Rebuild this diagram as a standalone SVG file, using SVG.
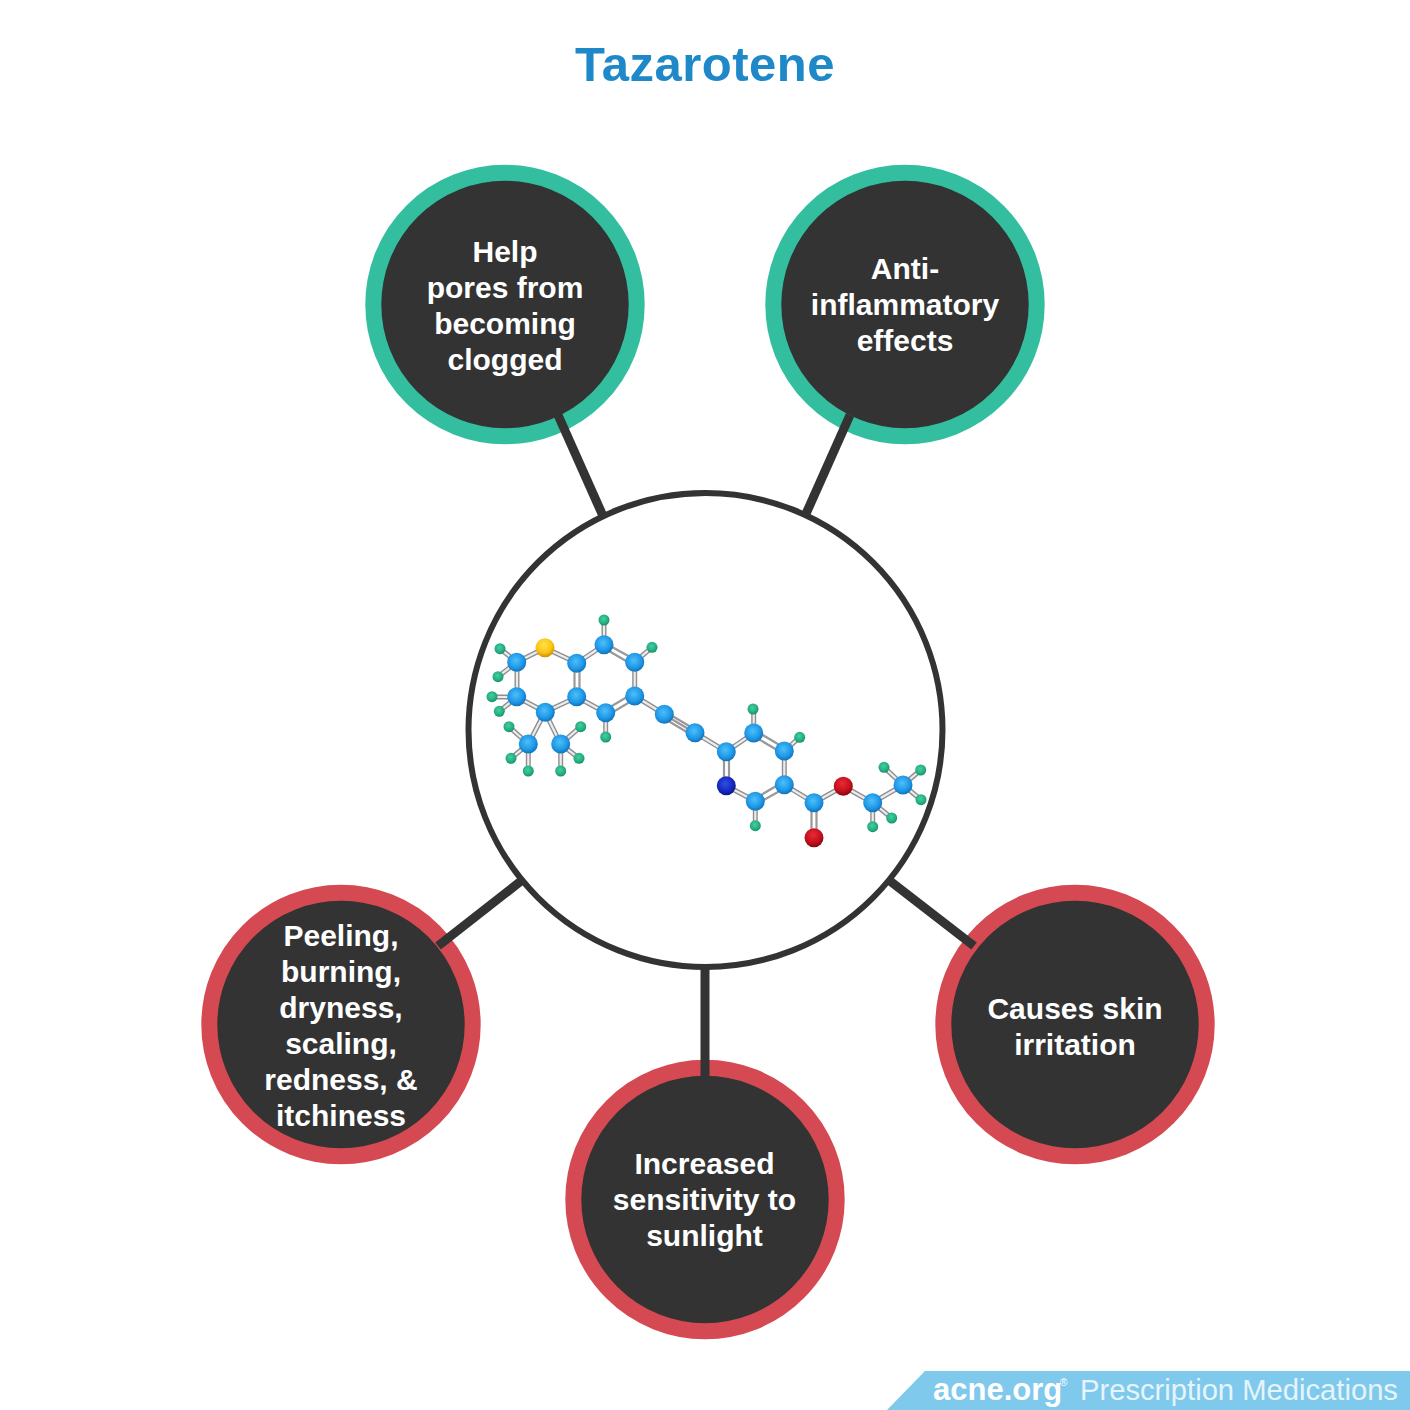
<svg xmlns="http://www.w3.org/2000/svg" width="1410" height="1410" viewBox="0 0 1410 1410">
<style>
text{font-family:"Liberation Sans",Arial,sans-serif}
.title{font-size:49px;font-weight:700;fill:#1e88c9;text-anchor:middle;letter-spacing:.5px}
.lab{font-size:30px;font-weight:700;fill:#fff;text-anchor:middle}
.good{fill:#333;stroke:#33bf9f;stroke-width:16}
.bad{fill:#333;stroke:#d54a52;stroke-width:16}
.hub{fill:#fff;stroke:#333;stroke-width:6}
.conn{stroke:#333;stroke-width:9;fill:none}
.bo{stroke:#8f8f8f;stroke-width:5;fill:none}
.bi{stroke:#ececec;stroke-width:2.200;fill:none}
.dbl{stroke:#999;stroke-width:2.200;fill:none}
.C{fill:url(#gc)}.H{fill:url(#gh)}.S{fill:url(#gs)}.N{fill:url(#gn)}.O{fill:url(#go)}
.brand{font-size:31px;font-weight:700;fill:#fff}
.sub{font-size:29.200px;fill:#e6f4fb}
</style>
<defs>
<radialGradient id="gc" cx=".45" cy=".4" r=".62"><stop offset="0" stop-color="#4cc0fa"/><stop offset=".65" stop-color="#1e97e6"/><stop offset="1" stop-color="#0f6fb8"/></radialGradient>
<radialGradient id="gh" cx=".45" cy=".4" r=".62"><stop offset="0" stop-color="#45d0a0"/><stop offset=".7" stop-color="#22ab80"/><stop offset="1" stop-color="#128a66"/></radialGradient>
<radialGradient id="gs" cx=".45" cy=".35" r=".65"><stop offset="0" stop-color="#ffe24a"/><stop offset=".65" stop-color="#fbc312"/><stop offset="1" stop-color="#d08e05"/></radialGradient>
<radialGradient id="gn" cx=".45" cy=".4" r=".62"><stop offset="0" stop-color="#2f4fe8"/><stop offset=".65" stop-color="#1428c0"/><stop offset="1" stop-color="#0a1680"/></radialGradient>
<radialGradient id="go" cx=".45" cy=".35" r=".65"><stop offset="0" stop-color="#ea2a36"/><stop offset=".65" stop-color="#c30f1c"/><stop offset="1" stop-color="#860610"/></radialGradient>
<path id="single" d="M545 648L517 662M517 662V697M517 697L545 712M545 712L577 697M545 648L577 663M577 663L604 645M634.700 662V696M605.700 712.700L577 697M634.700 696L664 714M695 732.700L726.300 751.700M726.300 785.700L755.300 801.300M784.300 784.700V751M726.300 751.700L753.700 733M784.300 784.700L814 802.700M814 802.700L843.300 786.300M843.300 786.300L872.700 802.700M872.700 802.700L903 785M545 712L528.300 744M545 712L560.700 744M604 645V620M634.700 662L652 647.300M517 662L500 648.700M517 662L498 676.700M517 697H492M517 697L499.300 711.300M605.700 712.700V737M528.300 744L509 726.700M528.300 744L511 758.300M528.300 744V771M560.700 744L580.700 726.700M560.700 744L579 758.300M560.700 744V771M753.700 733V709M784.300 751L799.700 737.300M755.300 801.300V825.700M872.700 802.700V826.700M872.700 802.700L891.700 818M903 785L884 767.300M903 785L920.700 770M903 785L921 799.700"/>
</defs>
<rect width="1410" height="1410" fill="#fff"/>
<text class="title" x="705" y="81">Tazarotene</text>
<g id="node-pores"><circle class="good" cx="505" cy="304.500" r="131.700"/>
<text class="lab"><tspan x="505" y="261.500">Help</tspan><tspan x="505" y="297.500">pores from</tspan><tspan x="505" y="333.500">becoming</tspan><tspan x="505" y="369.500">clogged</tspan></text></g>
<g id="node-antiinflammatory"><circle class="good" cx="905" cy="304.500" r="131.700"/>
<text class="lab"><tspan x="905" y="278.500">Anti-</tspan><tspan x="905" y="314.500">inflammatory</tspan><tspan x="905" y="350.500">effects</tspan></text></g>
<g id="node-peeling"><circle class="bad" cx="341" cy="1024.500" r="131.700"/>
<text class="lab"><tspan x="341" y="945.500">Peeling,</tspan><tspan x="341" y="981.500">burning,</tspan><tspan x="341" y="1017.500">dryness,</tspan><tspan x="341" y="1053.500">scaling,</tspan><tspan x="341" y="1089.500">redness, &amp;</tspan><tspan x="341" y="1125.500">itchiness</tspan></text></g>
<g id="node-sunlight"><circle class="bad" cx="705" cy="1199.500" r="131.700"/>
<text class="lab"><tspan x="704.500" y="1173.500">Increased</tspan><tspan x="704.500" y="1209.500">sensitivity to</tspan><tspan x="704.500" y="1245.500">sunlight</tspan></text></g>
<g id="node-irritation"><circle class="bad" cx="1075" cy="1024.500" r="131.700"/>
<text class="lab"><tspan x="1075" y="1018.500">Causes skin</tspan><tspan x="1075" y="1054.500">irritation</tspan></text></g>
<g id="connectors">
<line class="conn" x1="558" y1="415" x2="603" y2="516"/>
<line class="conn" x1="850" y1="415" x2="805" y2="516"/>
<line class="conn" x1="521" y1="881" x2="438" y2="946"/>
<line class="conn" x1="890" y1="881" x2="974" y2="946"/>
<line class="conn" x1="705" y1="966" x2="705" y2="1078"/>
</g>
<g id="node-molecule"><circle class="hub" cx="705.500" cy="730" r="237"/>
<use href="#single" class="bo"/><use href="#single" class="bi"/>
<path class="dbl" d="M574.500 664V696M579.500 664V696M604 642.500L635.500 660M602 647L633 665M633 693.500L605 710M636.500 698L608 715M664 711L695 729.500M664 714.500L695 733M662.500 717.500L693.500 736M724 752V785M729 752V785M755 798.500L783 782M757.500 803.500L786 787.500M755 730.500L785.500 748.500M752.500 735.500L783 753.500M811.500 803V837M816.500 803V837"/>
<circle class="H" cx="604" cy="620" r="5.500"/><circle class="H" cx="652" cy="647.300" r="5.500"/><circle class="H" cx="500" cy="648.700" r="5.500"/><circle class="H" cx="498" cy="676.700" r="5.500"/><circle class="H" cx="492" cy="696.700" r="5.500"/><circle class="H" cx="499.300" cy="711.300" r="5.500"/><circle class="H" cx="605.700" cy="737" r="5.500"/><circle class="H" cx="509" cy="726.700" r="5.500"/><circle class="H" cx="511" cy="758.300" r="5.500"/><circle class="H" cx="528.300" cy="771" r="5.500"/><circle class="H" cx="580.700" cy="726.700" r="5.500"/><circle class="H" cx="579" cy="758.300" r="5.500"/><circle class="H" cx="560.700" cy="771" r="5.500"/><circle class="H" cx="753" cy="709" r="5.500"/><circle class="H" cx="799.700" cy="737.300" r="5.500"/><circle class="H" cx="755.300" cy="825.700" r="5.500"/><circle class="H" cx="872.700" cy="826.700" r="5.500"/><circle class="H" cx="891.700" cy="818" r="5.500"/><circle class="H" cx="884" cy="767.300" r="5.500"/><circle class="H" cx="920.700" cy="770" r="5.500"/><circle class="H" cx="921" cy="799.700" r="5.500"/>
<circle class="C" cx="516.700" cy="662.300" r="9.500"/><circle class="C" cx="516.700" cy="696.700" r="9.500"/><circle class="C" cx="545.300" cy="712.300" r="9.500"/><circle class="C" cx="576.700" cy="696.700" r="9.500"/><circle class="C" cx="576.700" cy="663.300" r="9.500"/><circle class="C" cx="604" cy="644.700" r="9.500"/><circle class="C" cx="634.700" cy="662.300" r="9.500"/><circle class="C" cx="634.700" cy="696" r="9.500"/><circle class="C" cx="605.700" cy="712.700" r="9.500"/><circle class="C" cx="664.300" cy="714.300" r="9.500"/><circle class="C" cx="695" cy="732.700" r="9.500"/><circle class="C" cx="528.300" cy="744" r="9.500"/><circle class="C" cx="560.700" cy="744" r="9.500"/><circle class="C" cx="726.300" cy="751.700" r="9.500"/><circle class="C" cx="755.300" cy="801.300" r="9.500"/><circle class="C" cx="784.300" cy="784.700" r="9.500"/><circle class="C" cx="784.300" cy="751" r="9.500"/><circle class="C" cx="753.700" cy="733" r="9.500"/><circle class="C" cx="814" cy="802.700" r="9.500"/><circle class="C" cx="872.700" cy="802.700" r="9.500"/><circle class="C" cx="903" cy="785" r="9.500"/>
<circle class="S" cx="545" cy="647.700" r="9.500"/><circle class="N" cx="726.300" cy="785.700" r="9.500"/><circle class="O" cx="814" cy="837.700" r="9.500"/><circle class="O" cx="843.300" cy="786.300" r="9.500"/>
</g>
<g id="banner"><polygon points="925,1371 1410,1371 1410,1410 887,1410" fill="#7fc9ec"/>
<text class="brand" x="933" y="1400">acne.org</text><text x="1060" y="1386" font-size="10" fill="#fff">®</text>
<text class="sub" x="1080" y="1400">Prescription Medications</text></g>
</svg>
